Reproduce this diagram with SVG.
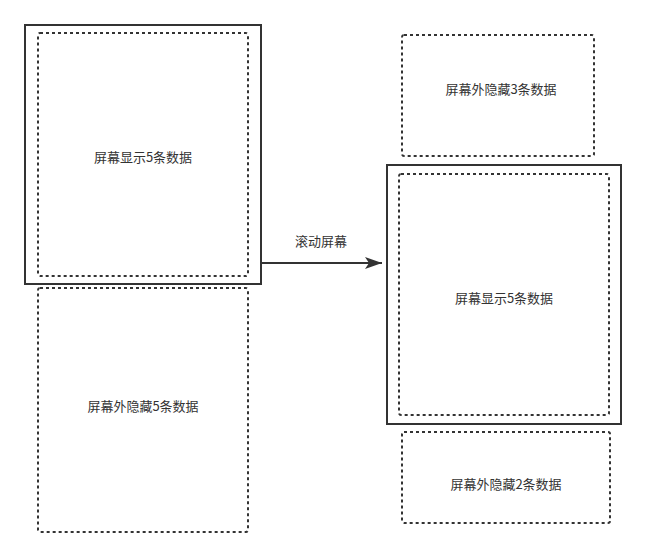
<svg xmlns="http://www.w3.org/2000/svg" width="647" height="557" viewBox="0 0 647 557">
<style>
.solid{fill:none;stroke:#333333;stroke-width:2}
.dot{fill:none;stroke:#333333;stroke-width:2;stroke-dasharray:3 3}
.lbl{font-family:"Noto Sans CJK SC","Liberation Sans",sans-serif;font-size:13px;fill:#333333;text-anchor:middle;dominant-baseline:central}
</style>
<defs>
<marker id="ah" markerWidth="18" markerHeight="14" refX="17" refY="7" orient="auto" markerUnits="userSpaceOnUse">
<path d="M0,1 L17,7 L0,13 L4,7 Z" fill="#333333"/>
</marker>
</defs>
<rect width="647" height="557" fill="#ffffff"/>
<g id="screen-left">
<rect class="solid" x="25" y="25" width="236" height="259"/>
</g>
<g id="visible-left">
<rect class="dot" x="38" y="33" width="210" height="243" rx="2"/>
<text class="lbl" x="143" y="156">屏幕显示5条数据</text>
</g>
<g id="hidden-left">
<rect class="dot" x="38" y="288" width="210" height="244" rx="2"/>
<text class="lbl" x="143" y="405">屏幕外隐藏5条数据</text>
</g>
<g id="hidden-right-top">
<rect class="dot" x="402" y="35" width="192" height="121" rx="2"/>
<text class="lbl" x="501" y="88">屏幕外隐藏3条数据</text>
</g>
<g id="screen-right">
<rect class="solid" x="387" y="165" width="234" height="259"/>
</g>
<g id="visible-right">
<rect class="dot" x="399" y="174" width="210" height="241" rx="2"/>
<text class="lbl" x="504" y="297">屏幕显示5条数据</text>
</g>
<g id="hidden-right-bottom">
<rect class="dot" x="402" y="432" width="208" height="91" rx="2"/>
<text class="lbl" x="506" y="483">屏幕外隐藏2条数据</text>
</g>
<g id="connectors">
<line x1="261" y1="263" x2="382" y2="263" stroke="#333333" stroke-width="2" marker-end="url(#ah)"/>
<text class="lbl" x="321" y="240">滚动屏幕</text>
</g>
</svg>
